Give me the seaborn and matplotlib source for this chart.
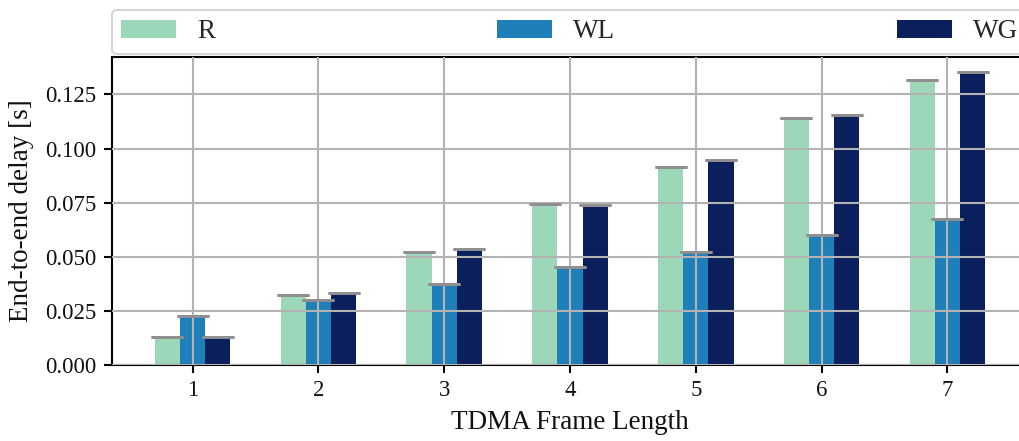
import matplotlib
matplotlib.use("Agg")
import matplotlib.pyplot as plt
import seaborn as sns
import pandas as pd
import numpy as np

frame_lengths = [1, 2, 3, 4, 5, 6, 7]
series_names = ["R", "WL", "WG"]
r_delay = [0.0130, 0.0323, 0.0522, 0.0743, 0.0915, 0.1142, 0.1318]
wl_delay = [0.0227, 0.0300, 0.0375, 0.0455, 0.0523, 0.0602, 0.0675]
wg_delay = [0.0130, 0.0333, 0.0535, 0.0740, 0.0948, 0.1155, 0.1355]
colors = ["#9cd7ba", "#1f7fb8", "#0b1f5c"]

df = pd.DataFrame({
    "frame": frame_lengths * 3,
    "series": sum([[s] * len(frame_lengths) for s in series_names], []),
    "delay": r_delay + wl_delay + wg_delay,
})

sns.set_theme(style="white")
plt.rcParams["font.family"] = ["Liberation Serif", "DejaVu Serif"]

fig = plt.figure(figsize=(10.2, 4.41), dpi=100)
ax = fig.add_axes([112 / 1020, 76 / 441, 916 / 1020, 308 / 441])

sns.barplot(data=df, x="frame", y="delay", hue="series", palette=colors,
            width=0.6, errorbar=None, saturation=1, linewidth=0, ax=ax, zorder=1)

# caps (tiny error bars) on each bar
bar_containers = list(ax.containers)
for cont in bar_containers:
    xs = [p.get_x() + p.get_width() / 2 for p in cont.patches]
    ys = [p.get_height() for p in cont.patches]
    ax.errorbar(xs, ys, yerr=0, fmt="none", ecolor="#8f8f8f",
                capsize=11.5, capthick=2, elinewidth=0, zorder=3)

ax.set_xlim(-0.64, 6.64)
ax.set_ylim(0, max(wg_delay) * 1.05)
ax.set_yticks([0.0, 0.025, 0.05, 0.075, 0.1, 0.125])
ax.yaxis.set_major_formatter(matplotlib.ticker.FormatStrFormatter("%.3f"))

ax.grid(True, color="#b3b3b3", linewidth=1.5)
ax.set_axisbelow(False)
for s in ax.spines.values():
    s.set_color("black")
    s.set_linewidth(1.5)

ax.tick_params(axis="both", which="major", direction="out", length=6, width=1.5,
               color="black", labelsize=16.5, labelcolor="#111111",
               bottom=True, left=True, pad=5)
ax.set_xlabel("TDMA Frame Length", fontsize=19.5, color="#111111", labelpad=6)
ax.set_ylabel("End-to-end delay [s]", fontsize=19.5, color="#111111", labelpad=8)

leg = ax.legend(loc="lower left", bbox_to_anchor=(0, 1.01, 1, 0.1), mode="expand",
                ncol=3, frameon=True, fontsize=19.5, handlelength=2.0,
                handleheight=0.65, borderaxespad=0.0, fancybox=True,
                borderpad=0.35)
leg.get_frame().set_edgecolor("#cccccc")
leg.get_frame().set_linewidth(1.5)

fig.savefig("out.png", dpi=100)
